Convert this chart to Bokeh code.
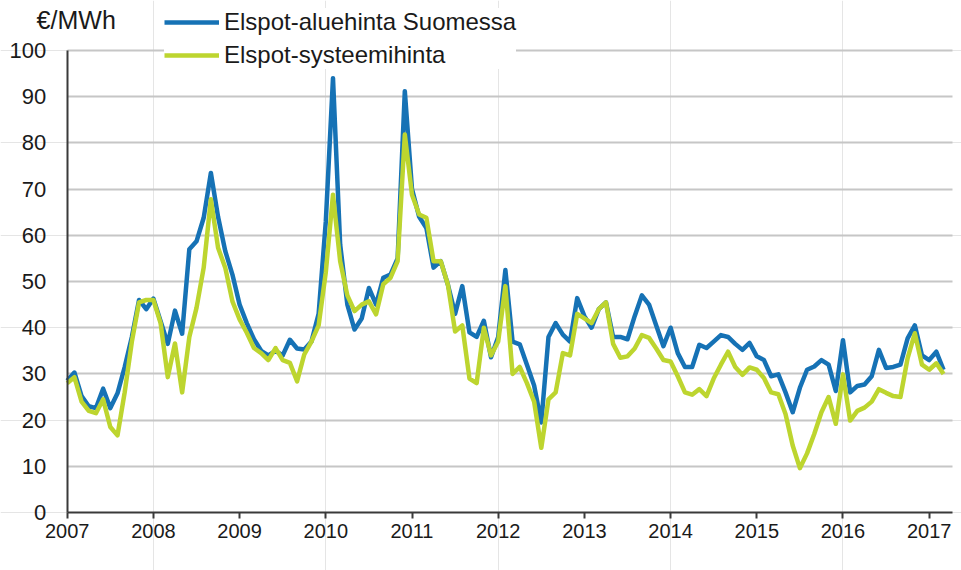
from bokeh.plotting import figure
from bokeh.models import (Range1d, FixedTicker, Legend, LegendItem, Label,
                          LinearAxis, Grid)
from bokeh.embed import file_html
from bokeh.resources import INLINE

# Monthly prices, Jan 2007 .. Mar 2017 (EUR/MWh)
start_year = 2007
aluehinta = [
    28.5, 30.3, 25.2, 23.0, 22.6, 26.8, 22.6, 25.8, 31.5, 38.0, 46.0, 44.0,   # 2007
    46.3, 41.4, 36.5, 43.7, 38.7, 57.0, 58.7, 63.8, 73.5, 64.0, 56.6, 51.5,   # 2008
    45.0, 41.0, 37.5, 35.0, 34.0, 35.0, 34.0, 37.4, 35.5, 35.3, 37.0, 43.0,   # 2009
    63.0, 94.0, 58.0, 45.0, 39.6, 42.0, 48.6, 45.0, 50.8, 51.5, 55.0, 91.2,   # 2010
    70.0, 64.0, 61.6, 53.0, 54.4, 49.3, 43.0, 49.0, 39.0, 38.0, 41.5, 33.6,   # 2011
    38.0, 52.5, 37.0, 36.4, 32.0, 27.5, 19.5, 38.0, 41.0, 38.5, 37.0, 46.4,   # 2012
    42.5, 40.0, 44.0, 45.5, 38.0, 38.0, 37.5, 42.5, 47.0, 45.0, 40.5, 36.0,   # 2013
    40.0, 34.5, 31.5, 31.5, 36.3, 35.6, 37.0, 38.4, 38.0, 36.5, 35.2, 36.7,   # 2014
    33.8, 33.0, 29.5, 29.9, 26.0, 21.7, 27.0, 30.9, 31.6, 33.0, 32.0, 26.3,   # 2015
    37.3, 26.0, 27.4, 27.7, 29.5, 35.2, 31.3, 31.5, 32.0, 37.7, 40.5, 34.0,   # 2016
    33.0, 34.8, 30.9,                                                         # 2017
]
systeemihinta = [
    28.0, 29.3, 24.0, 22.0, 21.5, 24.5, 18.5, 16.7, 26.0, 37.0, 45.5, 46.0,   # 2007
    46.0, 41.0, 29.3, 36.6, 26.0, 38.0, 44.3, 53.0, 67.8, 57.3, 53.0, 45.7,   # 2008
    41.8, 38.9, 35.6, 34.5, 33.0, 35.6, 33.0, 32.4, 28.4, 34.2, 37.0, 40.5,   # 2009
    52.0, 68.8, 54.4, 47.0, 43.6, 45.0, 45.7, 42.9, 49.4, 50.8, 54.4, 81.8,   # 2010
    68.8, 64.5, 63.8, 54.4, 54.4, 49.3, 39.2, 40.5, 29.0, 28.0, 40.0, 34.0,   # 2011
    37.0, 49.0, 30.0, 31.5, 28.0, 24.0, 14.0, 24.5, 26.0, 34.5, 34.0, 43.0,   # 2012
    42.0, 41.0, 44.0, 45.5, 36.5, 33.5, 33.8, 35.5, 38.4, 37.8, 35.5, 33.0,   # 2013
    32.7, 29.5, 26.0, 25.5, 26.7, 25.2, 29.0, 32.0, 34.8, 31.5, 29.8, 31.4,   # 2014
    30.9, 29.1, 26.0, 25.6, 21.3, 14.5, 9.6, 12.8, 17.0, 21.7, 25.0, 19.2,    # 2015
    29.9, 19.9, 22.0, 22.7, 24.0, 26.7, 25.9, 25.2, 25.0, 33.4, 38.8, 32.0,   # 2016
    30.9, 32.3, 30.0,                                                         # 2017
]
year_ticks = list(range(2007, 2018))
y_ticks = list(range(0, 101, 10))
series_names = ["Elspot-aluehinta Suomessa", "Elspot-systeemihinta"]
unit_label = "€/MWh"

months = [start_year + i / 12 for i in range(len(aluehinta))]

BLUE = "#1672b5"
GREEN = "#bdd52f"
TEXT = "#1a1a1a"
AXIS = "#3a3a3a"
FONT = "Liberation Sans"

X_END = 2017.27
p = figure(width=961, height=570, output_backend="svg", toolbar_location=None,
           x_range=Range1d(2006.226, 2017.375), y_range=Range1d(-12.55, 110.82),
           x_axis_location=None, y_axis_location=None, min_border=0)
p.outline_line_color = None
p.background_fill_color = "white"
p.border_fill_color = "white"

grid = Grid(dimension=1, ticker=FixedTicker(ticks=y_ticks[1:]),
            grid_line_color="#c6c6c6", grid_line_width=2,
            cross_bounds=(2007, X_END), level="underlay")
p.add_layout(grid)

r1 = p.line(months, aluehinta, line_color=BLUE, line_width=4.5, line_join="round")
r2 = p.line(months, systeemihinta, line_color=GREEN, line_width=4.5, line_join="round")

yaxis = LinearAxis(fixed_location=2007, bounds=(0, 100), ticker=FixedTicker(ticks=y_ticks))
yaxis.major_tick_out = 0
yaxis.major_tick_in = 0
yaxis.minor_tick_out = 0
yaxis.minor_tick_in = 0
yaxis.major_label_standoff = 21
yaxis.major_label_text_font = FONT
yaxis.major_label_text_font_size = "22px"
yaxis.major_label_text_color = TEXT
yaxis.axis_line_color = AXIS
yaxis.axis_line_width = 2
p.add_layout(yaxis, "left")

xaxis = LinearAxis(fixed_location=0, bounds=(2007, X_END), ticker=FixedTicker(ticks=year_ticks))
xaxis.major_tick_out = 6
xaxis.major_tick_in = 0
xaxis.minor_tick_out = 0
xaxis.minor_tick_in = 0
xaxis.major_tick_line_color = AXIS
xaxis.major_tick_line_width = 2
xaxis.major_label_standoff = 5
xaxis.major_label_text_font = FONT
xaxis.major_label_text_font_size = "20px"
xaxis.major_label_text_color = TEXT
xaxis.axis_line_color = AXIS
xaxis.axis_line_width = 2
p.add_layout(xaxis, "below")

legend = Legend(items=[LegendItem(label=series_names[0], renderers=[r1]),
                       LegendItem(label=series_names[1], renderers=[r2])],
                location=(164, 501), orientation="vertical")
legend.label_text_font = FONT
legend.label_text_font_size = "24px"
legend.label_text_color = TEXT
legend.glyph_width = 55
legend.glyph_height = 22
legend.label_height = 22
legend.label_standoff = 5
legend.spacing = 5
legend.padding = 6
legend.margin = 0
legend.border_line_color = None
legend.background_fill_color = "white"
legend.background_fill_alpha = 1.0
p.add_layout(legend, "center")

unit = Label(x=2006.645, y=106.5, text=unit_label, text_font=FONT, text_font_size="25px",
             text_color=TEXT, text_baseline="middle", text_align="left")
p.add_layout(unit)

open("out.html", "w").write(file_html(p, INLINE))
